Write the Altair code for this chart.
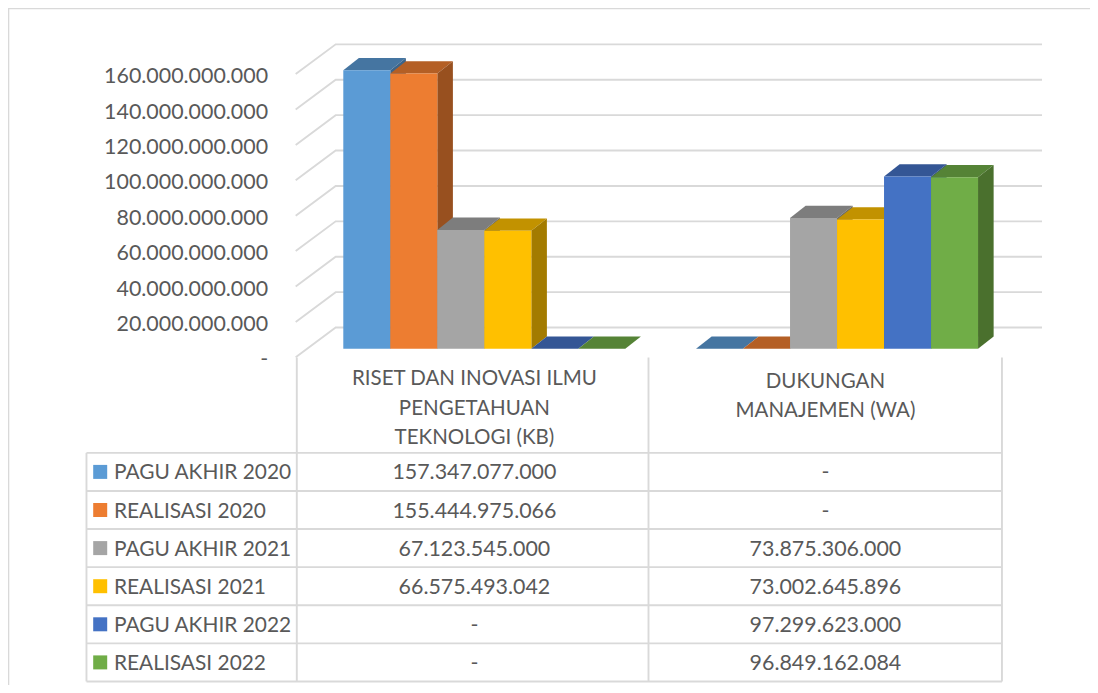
import altair as alt
import pandas as pd

SERIES = ["PAGU AKHIR 2020", "REALISASI 2020", "PAGU AKHIR 2021",
          "REALISASI 2021", "PAGU AKHIR 2022", "REALISASI 2022"]
RISET = [157347077000, 155444975066, 67123545000, 66575493042, 0, 0]
DUKUNGAN = [0, 0, 73875306000, 73002645896, 97299623000, 96849162084]
FRONT = ["#5B9BD5", "#ED7D31", "#A5A5A5", "#FFC000", "#4472C4", "#70AD47"]
TOP = ["#4575A1", "#B45F25", "#7D7D7D", "#C29200", "#345695", "#558336"]
SIDE = ["#3C6489", "#98501F", "#6A6A6A", "#A37B00", "#2C4A7E", "#4A702D"]
TICKS = [0, 20e9, 40e9, 60e9, 80e9, 100e9, 120e9, 140e9, 160e9]
HEAD_1 = ["RISET DAN INOVASI ILMU", "PENGETAHUAN", "TEKNOLOGI (KB)"]
HEAD_2 = ["DUKUNGAN", "MANAJEMEN (WA)"]

TEXT = "#595959"
GRID = "#D9D9D9"
FONT = "Lato"


def fmt(v):
    return "-" if v == 0 else f"{int(v):,}".replace(",", ".")


# ---- 3D plot: x in bar widths, y in value units
GROUP_START = [0, 7.505]
DX, DY = 15.6 / 47, 6.95e9          # oblique depth of a bar
WALL_FRONT_X, WALL_BACK_X, WALL_END_X = -1.013, -0.162, 14.866
WALL_FRONT_Y, WALL_BACK_Y = -4.86e9, 11.95e9

polys = []
pid = 0
for g, vals in enumerate([RISET, DUKUNGAN]):
    for i, v in enumerate(vals):
        x0 = GROUP_START[g] + i
        x1 = x0 + 1
        top = [(x0, v, v), (x0 + DX, v + DY, v), (x1, v + DY, v), (x1 + DX, v + DY, v + DY)]
        side = [(x1, v, 0), (x1 + DX, v + DY, DY)]
        front = [(x0, v, 0), (x1, v, 0)]
        for pts, col in ((top, TOP[i]), (side, SIDE[i]), (front, FRONT[i])):
            if col in (SIDE[i], FRONT[i]) and v == 0:
                continue
            pid += 1
            for a, b, c in pts:
                polys.append({"x": a, "y": b, "y2": c, "poly": pid, "fill": col})
polys = pd.DataFrame(polys)

grid = []
for k, t in enumerate(TICKS):
    grid += [{"x": WALL_FRONT_X, "y": t + WALL_FRONT_Y, "k": k, "o": 0},
             {"x": WALL_BACK_X, "y": t + WALL_BACK_Y, "k": k, "o": 1},
             {"x": WALL_END_X, "y": t + WALL_BACK_Y, "k": k, "o": 2}]
grid = pd.DataFrame(grid)

ticks = pd.DataFrame({"y": [t + WALL_FRONT_Y for t in TICKS],
                      "label": [fmt(t) for t in TICKS],
                      "x": [-1.6] * len(TICKS)})

xs = alt.Scale(domain=[0, 1], range=[335.3, 382.3], zero=False, nice=False)
ys = alt.Scale(domain=[0, 160e9], range=[340.7, 57.5], zero=False, nice=False)
X = alt.X("x:Q", scale=xs, axis=None)
Y = alt.Y("y:Q", scale=ys, axis=None)

grid_l = alt.Chart(grid).mark_line(color=GRID, strokeWidth=1.9, clip=False).encode(
    x=X, y=Y, detail="k:N", order="o:Q")
area_l = alt.Chart(polys).mark_area(interpolate="linear", clip=False).encode(
    x=X, y=alt.Y("y:Q", scale=ys, axis=None, stack=None), y2="y2:Q",
    fill=alt.Fill("fill:N", scale=None), detail="poly:N")
tick_l = alt.Chart(ticks).mark_text(
    align="right", baseline="middle", font=FONT, fontSize=21.4, color=TEXT, dy=3
).encode(x=X, y=Y, text="label:N")
plot = alt.layer(grid_l, area_l, tick_l)

# ---- data table: x in column widths, y in row heights
ROW_LEFT, SWATCH_X, NAME_X, COL_END = -0.598, -0.559, -0.52, 2.005
HEADER_TOP = -3.0
rows = list(range(len(SERIES)))

h_lines = pd.DataFrame([{"x": ROW_LEFT, "x2": COL_END, "y": r - 0.5} for r in range(len(SERIES) + 1)])
v_lines = pd.DataFrame([
    {"x": ROW_LEFT, "y": -0.5, "y2": 5.5},
    {"x": 0, "y": HEADER_TOP, "y2": 5.5},
    {"x": 1, "y": HEADER_TOP, "y2": 5.5},
    {"x": COL_END, "y": HEADER_TOP, "y2": 5.5},
])
names = pd.DataFrame({"x": [NAME_X] * 6, "y": rows, "t": SERIES})
swatches = pd.DataFrame({"x": [SWATCH_X] * 6, "y": rows, "c": FRONT})
cells = pd.DataFrame(
    [{"x": 0.505, "y": r, "t": fmt(RISET[r])} for r in rows]
    + [{"x": 1.503, "y": r, "t": fmt(DUKUNGAN[r])} for r in rows]
)
heads = pd.DataFrame(
    [{"x": 0.505, "y": y, "t": t} for y, t in zip([-2.47, -1.68, -0.92], HEAD_1)]
    + [{"x": 1.503, "y": y, "t": t} for y, t in zip([-2.39, -1.64], HEAD_2)]
)

txs = alt.Scale(domain=[0, 1], range=[288.8, 640.5], zero=False, nice=False)
tys = alt.Scale(domain=[0, 1], range=[463.9, 502.0], zero=False, nice=False)
TX = alt.X("x:Q", scale=txs, axis=None)
TY = alt.Y("y:Q", scale=tys, axis=None)

table = alt.layer(
    alt.Chart(h_lines).mark_rule(color=GRID, strokeWidth=1.9).encode(x=TX, x2="x2:Q", y=TY),
    alt.Chart(v_lines).mark_rule(color=GRID, strokeWidth=1.9).encode(x=TX, y=TY, y2="y2:Q"),
    alt.Chart(swatches).mark_point(shape="square", size=196, filled=True, opacity=1).encode(
        x=TX, y=TY, fill=alt.Fill("c:N", scale=None)),
    alt.Chart(names).mark_text(align="left", baseline="middle", font=FONT, fontSize=20.9, color=TEXT, dy=1.5).encode(
        x=TX, y=TY, text="t:N"),
    alt.Chart(cells).mark_text(align="center", baseline="middle", font=FONT, fontSize=21.4, color=TEXT, dy=1.5).encode(
        x=TX, y=TY, text="t:N"),
    alt.Chart(heads).mark_text(align="center", baseline="middle", font=FONT, fontSize=20.5, color=TEXT, dy=1.5).encode(
        x=TX, y=TY, text="t:N"),
)

# ---- outer frame (top and left edges only)
W, H = 1082, 677
fx = alt.Scale(domain=[0, 1], range=[0, W], zero=False, nice=False)
fy = alt.Scale(domain=[0, 1], range=[0, H], zero=False, nice=False)
frame_df = pd.DataFrame({"x": [0, 0, 1], "y": [1, 0, 0], "o": [0, 1, 2]})
frame = alt.Chart(frame_df).mark_line(color=GRID, strokeWidth=2.6).encode(
    x=alt.X("x:Q", scale=fx, axis=None), y=alt.Y("y:Q", scale=fy, axis=None), order="o:Q")

chart = alt.layer(frame, plot, table).resolve_scale(x="independent", y="independent").properties(
    width=W, height=H, padding=0,
    autosize=alt.AutoSizeParams(type="none"),
    background="white",
).configure_view(stroke=None)

chart.save("out.html", embed_options={"renderer": "svg", "actions": False})
